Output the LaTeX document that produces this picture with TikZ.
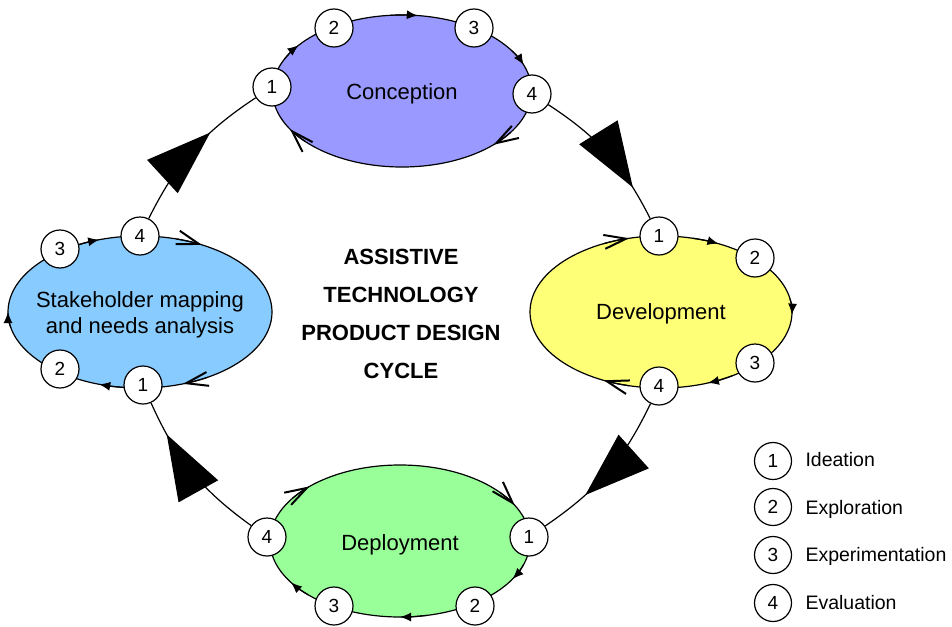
\documentclass[tikz,border=0pt]{standalone}
\usepackage{fontspec}
\setmainfont{Liberation Sans}
\usetikzlibrary{shapes.geometric,arrows.meta,decorations.markings}
\definecolor{conceptfill}{RGB}{153,153,255}
\definecolor{stakefill}{RGB}{136,204,255}
\definecolor{devfill}{RGB}{255,255,119}
\definecolor{deployfill}{RGB}{153,255,153}
\newcommand\onarc[5]{%
  \draw[#5] (#1.center) ++({#4-12}:{#2} and {#3}) arc[start angle={#4-12}, end angle={#4}, x radius={#2}, y radius={#3}];}
\begin{document}
\begin{tikzpicture}[x=1pt,y=-1pt,
  stage/.style={ellipse, draw, line width=1.2pt, inner sep=0pt},
  lab/.style={align=center, font=\fontsize{22}{26}\selectfont},
  num/.style={circle, draw, fill=white, line width=1.2pt, minimum size=38pt, inner sep=0pt, font=\fontsize{19}{19}\selectfont},
  legnum/.style={num, minimum size=37pt},
  legtext/.style={anchor=west, font=\fontsize{19.5}{19.5}\selectfont},
  smallfill/.style={line width=1.2pt, -{Latex[length=11pt,width=9pt]}},
  chev/.style={line width=1.2pt, -{Straight Barb[length=22pt,width=14pt,line width=2pt]}},
  conn/.style={line width=1.2pt, postaction={decorate},
    decoration={markings, mark=at position #1 with {\arrow{Triangle[length=65pt,width=45pt]}}}}
]
\useasboundingbox (0,0) rectangle (952,626);

% stage ellipses
\node[stage, fill=conceptfill, minimum width=259pt, minimum height=152pt] (top) at (402,91) {};
\node[stage, fill=stakefill, minimum width=264pt, minimum height=152pt] (left) at (140,312) {};
\node[stage, fill=devfill, minimum width=262pt, minimum height=152pt] (right) at (661,312) {};
\node[stage, fill=deployfill, minimum width=260pt, minimum height=152pt] (bottom) at (400,541) {};

\node[lab] (toplab) at (402,94) {Conception};
\node[lab] (leftlab) at (140,315) {Stakeholder mapping\\and needs analysis};
\node[lab] (rightlab) at (661,314) {Development};
\node[lab] (bottomlab) at (400,545) {Deployment};

% arrows along ellipses (clockwise)
\onarc{top}{129.5}{76}{217}{smallfill}
\onarc{top}{129.5}{76}{277}{smallfill}
\onarc{top}{129.5}{76}{340}{smallfill}
\onarc{top}{129.5}{76}{45}{chev}
\onarc{top}{129.5}{76}{150}{chev}

\onarc{left}{132}{76}{108}{smallfill}
\onarc{left}{132}{76}{180}{smallfill}
\onarc{left}{132}{76}{252}{smallfill}
\onarc{left}{132}{76}{298}{chev}
\onarc{left}{132}{76}{71}{chev}

\onarc{right}{131}{76}{296}{smallfill}
\onarc{right}{131}{76}{2}{smallfill}
\onarc{right}{131}{76}{69}{smallfill}
\onarc{right}{131}{76}{116}{chev}
\onarc{right}{131}{76}{256}{chev}

\onarc{bottom}{130}{76}{30}{smallfill}
\onarc{bottom}{130}{76}{90}{smallfill}
\onarc{bottom}{130}{76}{147}{smallfill}
\onarc{bottom}{130}{76}{226}{chev}
\onarc{bottom}{130}{76}{332}{chev}

% step circles
\node[num] (t1) at (272,87) {1};
\node[num] (t2) at (334,28) {2};
\node[num] (t3) at (474,28) {3};
\node[num] (t4) at (532,94) {4};

\node[num] (l1) at (143,385) {1};
\node[num] (l2) at (60,369) {2};
\node[num] (l3) at (60,249) {3};
\node[num] (l4) at (140,236) {4};

\node[num] (r1) at (659,236) {1};
\node[num] (r2) at (755,258) {2};
\node[num] (r3) at (755,363) {3};
\node[num] (r4) at (659,386) {4};

\node[num] (b1) at (529,537) {1};
\node[num] (b2) at (475,606) {2};
\node[num] (b3) at (334,606) {3};
\node[num] (b4) at (267,537) {4};

% connectors between stages
\draw[conn=0.65] (l4) to[bend left=15] (t1);
\draw[conn=0.77] (t4) to[bend left=15] (r1);
\draw[conn=0.69] (r4) to[bend left=15] (b1);
\draw[conn=0.78] (b4) to[bend left=15] (l1);

% title
\node[align=center, font=\bfseries\fontsize{22}{38}\selectfont] (title) at (401,314)
  {ASSISTIVE\\TECHNOLOGY\\PRODUCT DESIGN\\CYCLE};

% legend
\node[legnum] (k1) at (773,461) {1};
\node[legnum] (k2) at (773,507) {2};
\node[legnum] (k3) at (773,555) {3};
\node[legnum] (k4) at (773,603) {4};
\node[legtext] (k1t) at (802,460) {Ideation};
\node[legtext] (k2t) at (802,509) {Exploration};
\node[legtext] (k3t) at (802,556) {Experimentation};
\node[legtext] (k4t) at (802,603) {Evaluation};
\end{tikzpicture}
\end{document}
